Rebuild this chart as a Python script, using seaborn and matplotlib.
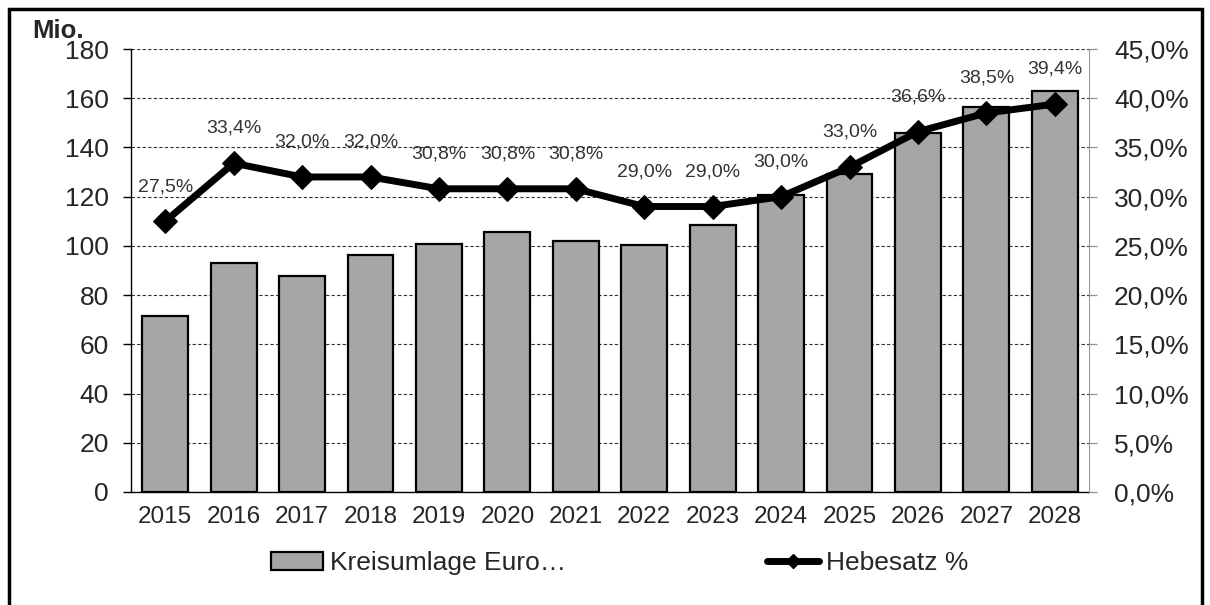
import numpy as np
import pandas as pd
import matplotlib
matplotlib.use("Agg")
import matplotlib.pyplot as plt
from matplotlib.patches import Rectangle, Patch
from matplotlib.lines import Line2D
import seaborn as sns

# data
years = ["2015", "2016", "2017", "2018", "2019", "2020", "2021",
         "2022", "2023", "2024", "2025", "2026", "2027", "2028"]
kreisumlage = [71.7, 93.0, 87.8, 96.2, 100.8, 105.6, 101.8,
               100.4, 108.5, 120.7, 129.3, 145.8, 156.6, 163.1]
hebesatz = [27.5, 33.4, 32.0, 32.0, 30.8, 30.8, 30.8,
            29.0, 29.0, 30.0, 33.0, 36.6, 38.5, 39.4]
left_ticks = list(range(0, 181, 20))
right_ticks = list(range(0, 46, 5))

sns.set_style("white")
plt.rcParams["font.family"] = ["Liberation Sans", "DejaVu Sans"]

df = pd.DataFrame({"Jahr": years, "Euro": kreisumlage, "Satz": hebesatz})

fig = plt.figure(figsize=(12.1, 6.05), dpi=100)
ax = fig.add_axes([0.1083, 0.1868, 0.7917, 0.7322])

sns.barplot(data=df, x="Jahr", y="Euro", color="#a6a6a6", saturation=1,
            edgecolor="black", linewidth=1.6, width=0.67, ax=ax)
ax.set_xlim(-0.5, len(years) - 0.5)
ax.set_ylim(0, 180)
ax.set_yticks(left_ticks)
ax.set_xlabel("")
ax.set_ylabel("")
ax.set_axisbelow(True)
ax.yaxis.grid(True, color="#333333", linestyle=(0, (3, 2)), linewidth=0.8)
ax.xaxis.grid(False)
for s in ["top", "right"]:
    ax.spines[s].set_visible(False)
ax.spines["left"].set_color("black")
ax.spines["bottom"].set_color("black")
ax.spines["left"].set_linewidth(1)
ax.spines["bottom"].set_linewidth(1)

# tick marks between the categories
ax.set_xticks(np.arange(-0.5, len(years), 1), minor=True)
ax.tick_params(axis="x", which="major", length=0, pad=10, labelsize=17.5)
ax.tick_params(axis="x", which="minor", direction="inout", length=9, width=1, color="black")
ax.tick_params(axis="y", direction="out", length=6, width=1, color="black",
               pad=10, labelsize=19, left=True)

ax2 = ax.twinx()
sns.lineplot(data=df, x="Jahr", y="Satz", sort=False, color="black", linewidth=5,
             marker="D", markersize=12, markeredgecolor="black", ax=ax2)
ax2.set_ylim(0, 45)
ax2.set_yticks(right_ticks)
ax2.set_yticklabels([f"{v:.1f}%".replace(".", ",") for v in right_ticks])
ax2.set_ylabel("")
ax2.grid(False)
for s in ["top", "left", "bottom"]:
    ax2.spines[s].set_visible(False)
ax2.spines["right"].set_color("#999999")
ax2.tick_params(axis="y", direction="out", length=6, width=1, color="#999999",
                pad=12, labelsize=19, right=True)

for i, v in enumerate(hebesatz):
    ax2.annotate(f"{v:.1f}%".replace(".", ","), (i, v), xytext=(0, 25),
                 textcoords="offset points", ha="center", va="center",
                 fontsize=14, color="#333333")

handles = [Patch(facecolor="#a6a6a6", edgecolor="black", linewidth=1.6),
           Line2D([], [], color="black", linewidth=5, marker="D", markersize=7)]
fig.legend(handles, ["Kreisumlage Euro…", "Hebesatz %"], loc="center",
           bbox_to_anchor=(0.512, 0.069), ncol=2, frameon=False, fontsize=19,
           handlelength=2.0, handletextpad=0.25, columnspacing=7.6)

fig.text(32 / 1210, 1 - 31 / 605, "Mio.", fontweight="bold", fontsize=18.5, va="center")

fig.add_artist(Rectangle((9 / 1210, -0.1), (1202 - 9) / 1210, 1 - 9 / 605 + 0.1,
                         transform=fig.transFigure, fill=False, edgecolor="black",
                         linewidth=2.5, clip_on=False))

fig.savefig("out.png", dpi=100)
